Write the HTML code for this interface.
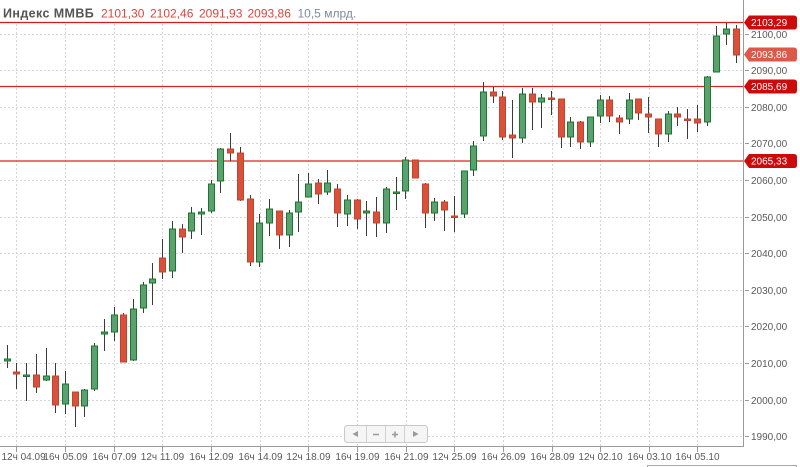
<!DOCTYPE html>
<html><head><meta charset="utf-8"><style>
html,body{margin:0;padding:0;background:#fff;width:800px;height:467px;overflow:hidden}
svg{display:block;font-family:"Liberation Sans","DejaVu Sans",sans-serif}
.g{fill:#5c9f71;stroke:#17782a;stroke-width:1}
.r{fill:#d9513b;stroke:#c2442d;stroke-width:1}
.w line{stroke:#3a3a3a;stroke-width:1}
.grid line{stroke:#d3d6d6;stroke-width:1;stroke-dasharray:2,2}
.ax{font-size:10px;fill:#5a5a5a}
</style></head><body>
<svg width="800" height="467" viewBox="0 0 800 467" xmlns="http://www.w3.org/2000/svg">
<rect width="800" height="467" fill="#fff"/>
<g class="grid">
<line x1="0" x2="743" y1="34.5" y2="34.5"/><line x1="0" x2="743" y1="70.5" y2="70.5"/><line x1="0" x2="743" y1="107.5" y2="107.5"/><line x1="0" x2="743" y1="143.5" y2="143.5"/><line x1="0" x2="743" y1="180.5" y2="180.5"/><line x1="0" x2="743" y1="217.5" y2="217.5"/><line x1="0" x2="743" y1="253.5" y2="253.5"/><line x1="0" x2="743" y1="290.5" y2="290.5"/><line x1="0" x2="743" y1="326.5" y2="326.5"/><line x1="0" x2="743" y1="363.5" y2="363.5"/><line x1="0" x2="743" y1="400.5" y2="400.5"/><line x1="0" x2="743" y1="436.5" y2="436.5"/>
<line y1="24" y2="446" x1="16.5" x2="16.5"/><line y1="24" y2="446" x1="65.5" x2="65.5"/><line y1="24" y2="446" x1="114.5" x2="114.5"/><line y1="24" y2="446" x1="162.5" x2="162.5"/><line y1="24" y2="446" x1="211.5" x2="211.5"/><line y1="24" y2="446" x1="260.5" x2="260.5"/><line y1="24" y2="446" x1="308.5" x2="308.5"/><line y1="24" y2="446" x1="357.5" x2="357.5"/><line y1="24" y2="446" x1="406.5" x2="406.5"/><line y1="24" y2="446" x1="454.5" x2="454.5"/><line y1="24" y2="446" x1="503.5" x2="503.5"/><line y1="24" y2="446" x1="552.5" x2="552.5"/><line y1="24" y2="446" x1="600.5" x2="600.5"/><line y1="24" y2="446" x1="649.5" x2="649.5"/><line y1="24" y2="446" x1="697.5" x2="697.5"/>
</g>

<!-- horizontal level lines -->
<line x1="0" x2="744" y1="22.5" y2="22.5" stroke="#d41a1a" stroke-width="1.2"/>
<line x1="0" x2="744" y1="86.5" y2="86.5" stroke="#d92525" stroke-width="1.2"/>
<line x1="0" x2="744" y1="161" y2="161" stroke="#d92525" stroke-width="1.2"/>

<!-- wicks -->
<g class="w">
<line x1="7.5" x2="7.5" y1="345" y2="368"/><line x1="16.5" x2="16.5" y1="363" y2="389"/><line x1="26.5" x2="26.5" y1="363" y2="401"/><line x1="36.5" x2="36.5" y1="354" y2="393"/><line x1="46.5" x2="46.5" y1="348" y2="381"/><line x1="55.5" x2="55.5" y1="363" y2="413"/><line x1="65.5" x2="65.5" y1="371" y2="414"/><line x1="75.5" x2="75.5" y1="392" y2="427"/><line x1="84.5" x2="84.5" y1="389" y2="417"/><line x1="94.5" x2="94.5" y1="343" y2="391"/>
<line x1="104.5" x2="104.5" y1="319" y2="351"/><line x1="114.5" x2="114.5" y1="307" y2="341"/><line x1="123.5" x2="123.5" y1="313" y2="362"/><line x1="133.5" x2="133.5" y1="299" y2="361"/><line x1="143.5" x2="143.5" y1="282" y2="313"/><line x1="152.5" x2="152.5" y1="263" y2="305"/><line x1="162.5" x2="162.5" y1="239" y2="279"/><line x1="172.5" x2="172.5" y1="221" y2="278"/><line x1="182.5" x2="182.5" y1="224" y2="253"/><line x1="191.5" x2="191.5" y1="207" y2="239"/>
<line x1="201.5" x2="201.5" y1="208" y2="235"/><line x1="211.5" x2="211.5" y1="180" y2="213"/><line x1="220.5" x2="220.5" y1="148" y2="193"/><line x1="230.5" x2="230.5" y1="133" y2="161"/><line x1="240.5" x2="240.5" y1="147" y2="201"/><line x1="250.5" x2="250.5" y1="195" y2="266"/><line x1="259.5" x2="259.5" y1="214" y2="267"/><line x1="269.5" x2="269.5" y1="199" y2="236"/><line x1="279.5" x2="279.5" y1="211" y2="249"/><line x1="289.5" x2="289.5" y1="210" y2="247"/>
<line x1="298.5" x2="298.5" y1="174" y2="232"/><line x1="308.5" x2="308.5" y1="173" y2="197"/><line x1="318.5" x2="318.5" y1="179" y2="204"/><line x1="327.5" x2="327.5" y1="170" y2="195"/><line x1="337.5" x2="337.5" y1="184" y2="227"/><line x1="347.5" x2="347.5" y1="195" y2="226"/><line x1="357.5" x2="357.5" y1="199" y2="229"/><line x1="366.5" x2="366.5" y1="201" y2="236"/><line x1="376.5" x2="376.5" y1="197" y2="237"/><line x1="386.5" x2="386.5" y1="187" y2="233"/>
<line x1="396.5" x2="396.5" y1="177" y2="210"/><line x1="405.5" x2="405.5" y1="157" y2="199"/><line x1="415.5" x2="415.5" y1="160" y2="178"/><line x1="425.5" x2="425.5" y1="183" y2="228"/><line x1="434.5" x2="434.5" y1="198" y2="221"/><line x1="444.5" x2="444.5" y1="200" y2="231"/><line x1="454.5" x2="454.5" y1="196" y2="232"/><line x1="464.5" x2="464.5" y1="171" y2="218"/><line x1="473.5" x2="473.5" y1="141" y2="176"/><line x1="483.5" x2="483.5" y1="82" y2="141"/>
<line x1="493.5" x2="493.5" y1="87" y2="103"/><line x1="502.5" x2="502.5" y1="91" y2="140"/><line x1="512.5" x2="512.5" y1="100" y2="158"/><line x1="522.5" x2="522.5" y1="88" y2="143"/><line x1="532.5" x2="532.5" y1="88" y2="130"/><line x1="541.5" x2="541.5" y1="94" y2="128"/><line x1="551.5" x2="551.5" y1="91" y2="115"/><line x1="561.5" x2="561.5" y1="99" y2="148"/><line x1="570.5" x2="570.5" y1="117" y2="147"/><line x1="580.5" x2="580.5" y1="121" y2="149"/>
<line x1="590.5" x2="590.5" y1="117" y2="147"/><line x1="600.5" x2="600.5" y1="95" y2="123"/><line x1="609.5" x2="609.5" y1="96" y2="122"/><line x1="619.5" x2="619.5" y1="115" y2="134"/><line x1="629.5" x2="629.5" y1="93" y2="124"/><line x1="638.5" x2="638.5" y1="99" y2="120"/><line x1="648.5" x2="648.5" y1="97" y2="133"/><line x1="658.5" x2="658.5" y1="119" y2="147"/><line x1="668.5" x2="668.5" y1="111" y2="142"/><line x1="677.5" x2="677.5" y1="107" y2="126"/>
<line x1="687.5" x2="687.5" y1="109" y2="139"/><line x1="697.5" x2="697.5" y1="105" y2="132"/><line x1="707.5" x2="707.5" y1="76" y2="126"/><line x1="716.5" x2="716.5" y1="26" y2="72"/><line x1="726.5" x2="726.5" y1="23" y2="45"/><line x1="736.5" x2="736.5" y1="25" y2="63"/>
</g>

<!-- bodies -->
<g>
<rect class="g" x="4.5" y="359" width="6" height="2"/><rect class="r" x="13.5" y="372" width="6" height="2"/><rect class="g" x="23.5" y="375" width="6" height="1.5"/><rect class="r" x="33.5" y="375" width="6" height="12"/><rect class="g" x="43.5" y="376" width="6" height="4"/><rect class="r" x="52.5" y="376" width="6" height="29"/><rect class="g" x="62.5" y="384" width="6" height="20"/><rect class="r" x="72.5" y="392" width="6" height="14"/><rect class="g" x="81.5" y="390" width="6" height="16"/><rect class="g" x="91.5" y="346" width="6" height="43"/>
<rect class="g" x="101.5" y="332" width="6" height="2"/><rect class="g" x="111.5" y="315" width="6" height="17"/><rect class="r" x="120.5" y="315" width="6" height="47"/><rect class="g" x="130.5" y="309" width="6" height="51"/><rect class="g" x="140.5" y="285" width="6" height="23"/><rect class="g" x="149.5" y="279" width="6" height="4"/><rect class="r" x="159.5" y="258" width="6" height="14"/><rect class="g" x="169.5" y="229" width="6" height="42"/><rect class="r" x="179.5" y="229" width="6" height="8"/><rect class="g" x="188.5" y="213" width="6" height="18"/>
<rect class="g" x="198.5" y="212" width="6" height="2"/><rect class="g" x="208.5" y="184" width="6" height="27"/><rect class="g" x="217.5" y="149" width="6" height="32"/><rect class="r" x="227.5" y="149" width="6" height="4"/><rect class="r" x="237.5" y="153" width="6" height="47"/><rect class="r" x="247.5" y="199" width="6" height="63"/><rect class="g" x="256.5" y="223" width="6" height="39"/><rect class="g" x="266.5" y="209" width="6" height="14"/><rect class="r" x="276.5" y="211" width="6" height="24"/><rect class="g" x="286.5" y="213" width="6" height="22"/>
<rect class="g" x="295.5" y="202" width="6" height="10"/><rect class="g" x="305.5" y="184" width="6" height="13"/><rect class="r" x="315.5" y="183" width="6" height="11"/><rect class="g" x="324.5" y="183" width="6" height="9"/><rect class="r" x="334.5" y="189" width="6" height="24"/><rect class="g" x="344.5" y="200" width="6" height="14"/><rect class="r" x="354.5" y="200" width="6" height="19"/><rect class="g" x="363.5" y="211" width="6" height="2"/><rect class="r" x="373.5" y="212" width="6" height="11"/><rect class="g" x="383.5" y="189" width="6" height="34"/>
<rect class="g" x="393.5" y="192" width="6" height="1.5"/><rect class="g" x="402.5" y="160" width="6" height="31"/><rect class="r" x="412.5" y="160" width="6" height="18"/><rect class="r" x="422.5" y="184" width="6" height="29"/><rect class="g" x="431.5" y="202" width="6" height="11"/><rect class="r" x="441.5" y="202" width="6" height="8"/><rect class="r" x="451.5" y="216" width="6" height="1.5"/><rect class="g" x="461.5" y="171" width="6" height="43"/><rect class="g" x="470.5" y="146" width="6" height="24"/><rect class="g" x="480.5" y="92" width="6" height="44"/>
<rect class="r" x="490.5" y="92" width="6" height="4"/><rect class="r" x="499.5" y="97" width="6" height="40"/><rect class="r" x="509.5" y="135" width="6" height="3"/><rect class="g" x="519.5" y="94" width="6" height="44"/><rect class="r" x="529.5" y="94" width="6" height="8"/><rect class="g" x="538.5" y="98" width="6" height="4"/><rect class="r" x="548.5" y="98" width="6" height="1.5"/><rect class="r" x="558.5" y="99" width="6" height="38"/><rect class="g" x="567.5" y="122" width="6" height="15"/><rect class="r" x="577.5" y="122" width="6" height="20"/>
<rect class="g" x="587.5" y="117" width="6" height="25"/><rect class="g" x="597.5" y="100" width="6" height="16"/><rect class="r" x="606.5" y="100" width="6" height="16"/><rect class="r" x="616.5" y="118" width="6" height="4"/><rect class="g" x="626.5" y="100" width="6" height="19"/><rect class="r" x="635.5" y="99" width="6" height="14"/><rect class="r" x="645.5" y="114" width="6" height="3"/><rect class="r" x="655.5" y="119" width="6" height="15"/><rect class="g" x="665.5" y="114" width="6" height="20"/><rect class="r" x="674.5" y="114" width="6" height="3"/>
<rect class="r" x="684.5" y="119" width="6" height="1.5"/><rect class="r" x="694.5" y="119" width="6" height="4"/><rect class="g" x="704.5" y="77" width="6" height="45"/><rect class="g" x="713.5" y="36" width="6" height="36"/><rect class="g" x="723.5" y="29" width="6" height="5"/><rect class="r" x="733.5" y="29" width="6" height="26"/>
</g>

<!-- axes -->
<line x1="743.5" x2="743.5" y1="0" y2="447" stroke="#9a9a9a"/>
<line x1="0" x2="744" y1="446.5" y2="446.5" stroke="#9a9a9a"/>
<g stroke="#9a9a9a">
<line x1="16.5" x2="16.5" y1="447" y2="452"/><line x1="65.5" x2="65.5" y1="447" y2="452"/><line x1="114.5" x2="114.5" y1="447" y2="452"/><line x1="162.5" x2="162.5" y1="447" y2="452"/><line x1="211.5" x2="211.5" y1="447" y2="452"/><line x1="260.5" x2="260.5" y1="447" y2="452"/><line x1="308.5" x2="308.5" y1="447" y2="452"/><line x1="357.5" x2="357.5" y1="447" y2="452"/><line x1="406.5" x2="406.5" y1="447" y2="452"/><line x1="454.5" x2="454.5" y1="447" y2="452"/><line x1="503.5" x2="503.5" y1="447" y2="452"/><line x1="552.5" x2="552.5" y1="447" y2="452"/><line x1="600.5" x2="600.5" y1="447" y2="452"/><line x1="649.5" x2="649.5" y1="447" y2="452"/><line x1="697.5" x2="697.5" y1="447" y2="452"/>
<line x1="745" x2="749" y1="34.5" y2="34.5"/><line x1="745" x2="749" y1="70.5" y2="70.5"/><line x1="745" x2="749" y1="107.5" y2="107.5"/><line x1="745" x2="749" y1="143.5" y2="143.5"/><line x1="745" x2="749" y1="180.5" y2="180.5"/><line x1="745" x2="749" y1="217.5" y2="217.5"/><line x1="745" x2="749" y1="253.5" y2="253.5"/><line x1="745" x2="749" y1="290.5" y2="290.5"/><line x1="745" x2="749" y1="326.5" y2="326.5"/><line x1="745" x2="749" y1="363.5" y2="363.5"/><line x1="745" x2="749" y1="400.5" y2="400.5"/><line x1="745" x2="749" y1="436.5" y2="436.5"/>
</g>
<g class="ax">
<text x="751" y="38">2100,00</text><text x="751" y="74">2090,00</text><text x="751" y="111">2080,00</text><text x="751" y="147">2070,00</text><text x="751" y="184">2060,00</text><text x="751" y="221">2050,00</text><text x="751" y="257">2040,00</text><text x="751" y="294">2030,00</text><text x="751" y="330">2020,00</text><text x="751" y="367">2010,00</text><text x="751" y="404">2000,00</text><text x="751" y="440">1990,00</text>
</g>
<g class="ax">
<text x="1.5" y="460">12ч 04.09</text>
<g text-anchor="middle">
<text x="65.5" y="460">16ч 05.09</text><text x="114.5" y="460">16ч 07.09</text><text x="162.5" y="460">12ч 11.09</text><text x="211.5" y="460">16ч 12.09</text><text x="260.5" y="460">16ч 14.09</text><text x="308.5" y="460">12ч 18.09</text><text x="357.5" y="460">16ч 19.09</text><text x="406.5" y="460">16ч 21.09</text><text x="454.5" y="460">12ч 25.09</text><text x="503.5" y="460">16ч 26.09</text><text x="552.5" y="460">16ч 28.09</text><text x="600.5" y="460">12ч 02.10</text><text x="649.5" y="460">16ч 03.10</text><text x="697.5" y="460">16ч 05.10</text>
</g>
</g>

<!-- price tags -->
<g font-size="10" fill="#fff">
<path d="M744,22.5 L749,15.5 H794 Q797,15.5 797,18.5 V26.5 Q797,29.5 794,29.5 H749 Z" fill="#cc0a0a"/>
<text x="751" y="26.2">2103,29</text>
<path d="M744,54.5 L749,47.5 H794 Q797,47.5 797,50.5 V58.5 Q797,61.5 794,61.5 H749 Z" fill="#dc5848"/>
<text x="751" y="58.2">2093,86</text>
<path d="M744,86.5 L749,79.5 H794 Q797,79.5 797,82.5 V90.5 Q797,93.5 794,93.5 H749 Z" fill="#cc0a0a"/>
<text x="751" y="90.2">2085,69</text>
<path d="M744,161 L749,154 H794 Q797,154 797,157 V165 Q797,168 794,168 H749 Z" fill="#cc0a0a"/>
<text x="751" y="164.7">2065,33</text>
</g>

<!-- nav buttons -->
<rect x="344.5" y="425.5" width="83" height="17" rx="3" fill="#f5f5f5" stroke="#c9c9c9"/>
<line x1="366.5" x2="366.5" y1="426" y2="442" stroke="#d0d0d0"/>
<line x1="385.5" x2="385.5" y1="426" y2="442" stroke="#d0d0d0"/>
<line x1="404.5" x2="404.5" y1="426" y2="442" stroke="#d0d0d0"/>
<polygon points="352.5,434 358,431 358,437" fill="#9a9a9a"/>
<line x1="373" x2="379" y1="434.5" y2="434.5" stroke="#9a9a9a" stroke-width="1.5"/>
<line x1="392" x2="398" y1="434.5" y2="434.5" stroke="#9a9a9a" stroke-width="1.5"/>
<line x1="395" x2="395" y1="431.5" y2="437.5" stroke="#9a9a9a" stroke-width="1.5"/>
<polygon points="413,431 418.5,434 413,437" fill="#9a9a9a"/>

<!-- bottom right box -->
<path d="M647.5,467 V465.5 H796.5 V467" fill="none" stroke="#aaa"/>

<!-- header -->
<text x="3" y="17.5" font-size="12.5" font-weight="bold" fill="#555" letter-spacing="0.4">Индекс ММВБ</text>
<g font-size="12" fill="#d9463f">
<text x="101" y="17.5">2101,30</text><text x="150" y="17.5">2102,46</text><text x="199" y="17.5">2091,93</text><text x="247.5" y="17.5">2093,86</text>
</g>
<text x="297.5" y="17.5" font-size="12" fill="#7d8b99">10,5 млрд.</text>
</svg>
</body></html>
